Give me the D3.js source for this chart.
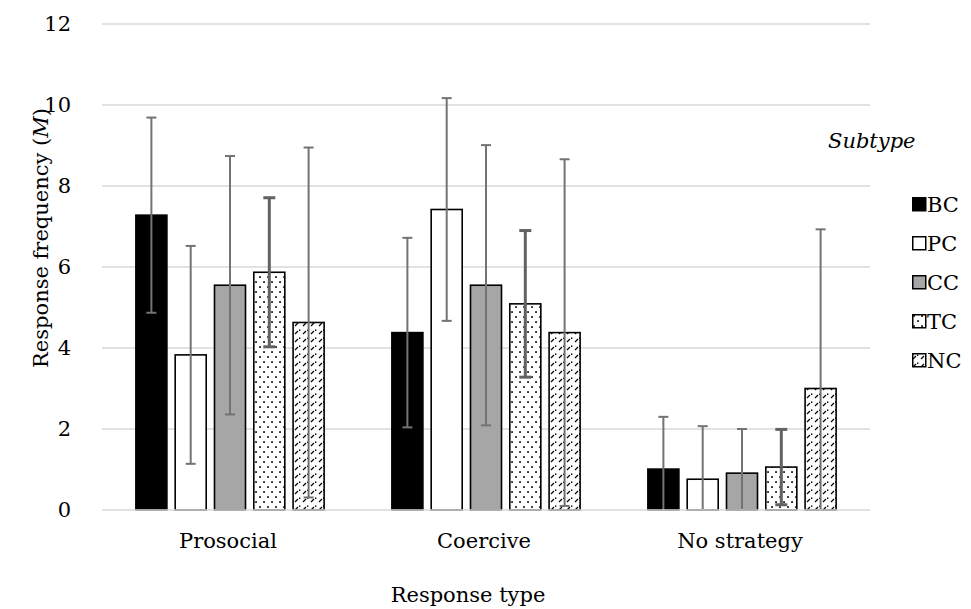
<!DOCTYPE html>
<html>
<head>
<meta charset="utf-8">
<script src="https://cdn.jsdelivr.net/npm/d3@7"></script>
<style>
  html, body { margin: 0; padding: 0; background: #fff; }
</style>
</head>
<body>
<svg id="chart" width="971" height="609"></svg>
<script>
// Response types on the x axis
const categories = ["Prosocial", "Coercive", "No strategy"];
// Subtypes (series)
const subtypes = ["BC", "PC", "CC", "TC", "NC"];
// Mean response frequency per subtype, in category order
const meanBC = [7.28, 4.38, 1.01];
const meanPC = [3.83, 7.42, 0.76];
const meanCC = [5.55, 5.55, 0.91];
const meanTC = [5.87, 5.09, 1.06];
const meanNC = [4.63, 4.38, 3.00];
// Standard deviations (error bars)
const sdBC = [2.41, 2.34, 1.29];
const sdPC = [2.69, 2.75, 1.31];
const sdCC = [3.19, 3.46, 1.09];
const sdTC = [1.84, 1.81, 0.93];
const sdNC = [4.32, 4.28, 3.93];
// Y axis ticks
const yTicks = [0, 2, 4, 6, 8, 10, 12];

const means = { BC: meanBC, PC: meanPC, CC: meanCC, TC: meanTC, NC: meanNC };
const sds = { BC: sdBC, PC: sdPC, CC: sdCC, TC: sdTC, NC: sdNC };

const FONT = "DejaVu Serif";
const FS = 21;
const svg = d3.select("#chart");

// Apply the serif face and size to a text selection
const serif = sel => sel.style("font-family", FONT).style("font-size", FS + "px").attr("fill", "#000");

const plot = { left: 102, right: 870, top: 24, bottom: 510 };

const x0 = d3.scaleBand().domain(categories).range([plot.left, plot.right]).paddingInner(0).paddingOuter(0);
const x1 = d3.scaleBand().domain(subtypes).range([0, x0.bandwidth()]).paddingInner(0.211).paddingOuter(0.862);
const y = d3.scaleLinear().domain([0, 12]).range([plot.bottom, plot.top]);

// Fill patterns
const defs = svg.append("defs");
const dots = defs.append("pattern").attr("id", "dots")
  .attr("patternUnits", "userSpaceOnUse").attr("width", 8).attr("height", 10);
dots.append("rect").attr("width", 8).attr("height", 10).attr("fill", "#fff");
[[2, 2], [6, 7]].forEach(([cx, cy]) =>
  dots.append("rect").attr("x", cx - 0.8).attr("y", cy - 0.8).attr("width", 1.7).attr("height", 1.7).attr("fill", "#000"));

const dash = defs.append("pattern").attr("id", "dashdiag")
  .attr("patternUnits", "userSpaceOnUse").attr("width", 8).attr("height", 8);
dash.append("rect").attr("width", 8).attr("height", 8).attr("fill", "#fff");
dash.append("line").attr("x1", 1).attr("y1", 6).attr("x2", 4).attr("y2", 3)
  .attr("stroke", "#000").attr("stroke-width", 1.3);
dash.append("rect").attr("x", 5).attr("y", 1.5).attr("width", 1.4).attr("height", 1.4).attr("fill", "#000");

const fills = { BC: "#000", PC: "#fff", CC: "#a6a6a6", TC: "url(#dots)", NC: "url(#dashdiag)" };

// Gridlines
svg.append("g").selectAll("line").data(yTicks.filter(t => t > 0)).join("line")
  .attr("x1", plot.left).attr("x2", plot.right)
  .attr("y1", d => y(d)).attr("y2", d => y(d))
  .attr("stroke", "#d9d9d9").attr("stroke-width", 1.5);

// Y axis tick labels
const yAxis = svg.append("g").attr("transform", `translate(${plot.left},0)`)
  .call(d3.axisLeft(y).tickValues(yTicks).tickSize(0).tickPadding(31).tickFormat(d3.format("d")));
yAxis.attr("font-family", null).attr("font-size", null);
yAxis.select(".domain").remove();
yAxis.selectAll("text").call(serif);

// Bars
const groups = svg.append("g").selectAll("g").data(categories).join("g")
  .attr("transform", d => `translate(${x0(d)},0)`);

groups.selectAll("rect").data((c, i) => subtypes.map(s => ({ s, v: means[s][i] }))).join("rect")
  .attr("x", d => x1(d.s)).attr("width", x1.bandwidth())
  .attr("y", d => y(d.v)).attr("height", d => y(0) - y(d.v))
  .attr("fill", d => fills[d.s]).attr("stroke", "#000").attr("stroke-width", 1.6);

// Category axis line
svg.append("line").attr("x1", plot.left).attr("x2", plot.right)
  .attr("y1", y(0)).attr("y2", y(0)).attr("stroke", "#d9d9d9").attr("stroke-width", 1.5);

// Error bars (clipped at zero)
groups.each(function (c, i) {
  const g = d3.select(this);
  subtypes.forEach(s => {
    const m = means[s][i], sd = sds[s][i];
    const cx = x1(s) + x1.bandwidth() / 2;
    const hi = m + sd, lo = Math.max(0, m - sd);
    const thick = s === "TC";
    const col = thick ? "#626262" : "#737373";
    const sw = thick ? 3 : 2;
    const cap = thick ? 6 : 5;
    g.append("line").attr("x1", cx).attr("x2", cx).attr("y1", y(hi)).attr("y2", y(lo))
      .attr("stroke", col).attr("stroke-width", sw);
    g.append("line").attr("x1", cx - cap).attr("x2", cx + cap).attr("y1", y(hi)).attr("y2", y(hi))
      .attr("stroke", col).attr("stroke-width", sw);
    if (m - sd > 0) {
      g.append("line").attr("x1", cx - cap).attr("x2", cx + cap).attr("y1", y(lo)).attr("y2", y(lo))
        .attr("stroke", col).attr("stroke-width", sw);
    }
  });
});

// Category labels
svg.append("g").selectAll("text").data(categories).join("text")
  .attr("x", d => x0(d) + x0.bandwidth() / 2 - 2).attr("y", 548)
  .attr("text-anchor", "middle").call(serif)
  .text(d => d);

// Axis titles
svg.append("text").attr("x", 468).attr("y", 602).attr("text-anchor", "middle")
  .call(serif).text("Response type");

const yt = svg.append("text").attr("transform", "translate(48,238) rotate(-90)")
  .attr("text-anchor", "middle").call(serif);
yt.append("tspan").text("Response frequency (");
yt.append("tspan").style("font-style", "italic").text("M");
yt.append("tspan").text(")");

// Legend
svg.append("text").attr("x", 828).attr("y", 148).call(serif)
  .style("font-style", "italic").text("Subtype");

const legend = svg.append("g").selectAll("g").data(subtypes).join("g")
  .attr("transform", (d, i) => `translate(912,${197 + i * 39})`);
legend.append("rect").attr("x", 0.75).attr("y", 0.75).attr("width", 13).attr("height", 13)
  .attr("fill", d => fills[d]).attr("stroke", "#000").attr("stroke-width", 1.5);
legend.append("text").attr("x", 15).attr("y", 15).call(serif)
  .text(d => d);
</script>
</body>
</html>
